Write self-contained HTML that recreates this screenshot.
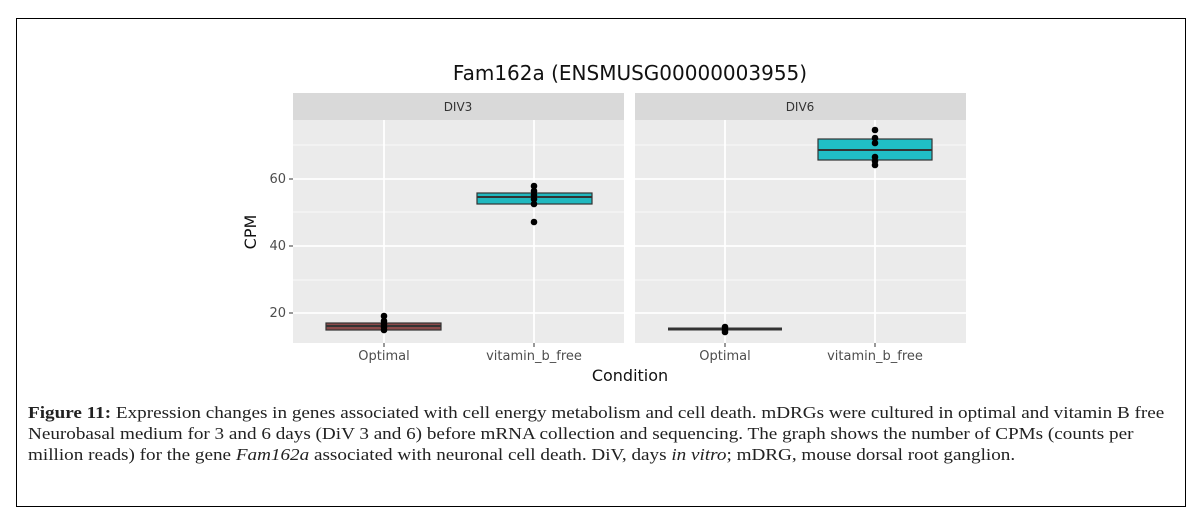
<!DOCTYPE html>
<html><head><meta charset="utf-8"><style>
html,body{margin:0;padding:0;background:#fff;}
body{width:1204px;height:517px;position:relative;overflow:hidden;}
.frame{position:absolute;left:16px;top:18px;width:1170px;height:489px;border:1.5px solid #000;box-sizing:border-box;}
.cap{position:absolute;left:28px;font-family:"Liberation Serif",serif;font-size:16.5px;color:#222;white-space:nowrap;transform:scaleX(1.16);transform-origin:0 0;}
</style></head><body>
<div class="frame"></div>
<svg width="1204" height="517" style="position:absolute;left:0;top:0" font-family="'DejaVu Sans','Liberation Sans',sans-serif">
<text x="630" y="80" font-size="20" text-anchor="middle" fill="#111">Fam162a (ENSMUSG00000003955)</text>
<rect x="293" y="93" width="331" height="27" fill="#d9d9d9"/>
<rect x="635" y="93" width="331" height="27" fill="#d9d9d9"/>
<text x="458" y="111" font-size="12" text-anchor="middle" fill="#333">DIV3</text>
<text x="800" y="111" font-size="12" text-anchor="middle" fill="#333">DIV6</text>
<g>
<rect x="293" y="120" width="331" height="223" fill="#ebebeb"/>
<rect x="635" y="120" width="331" height="223" fill="#ebebeb"/>
<g stroke="#fff" stroke-width="0.8">
<line x1="293" x2="624" y1="145" y2="145"/><line x1="293" x2="624" y1="212" y2="212"/><line x1="293" x2="624" y1="280" y2="280"/>
<line x1="635" x2="966" y1="145" y2="145"/><line x1="635" x2="966" y1="212" y2="212"/><line x1="635" x2="966" y1="280" y2="280"/>
</g>
<g stroke="#fff" stroke-width="1.8">
<line x1="293" x2="624" y1="179" y2="179"/><line x1="293" x2="624" y1="246" y2="246"/><line x1="293" x2="624" y1="313" y2="313"/>
<line x1="635" x2="966" y1="179" y2="179"/><line x1="635" x2="966" y1="246" y2="246"/><line x1="635" x2="966" y1="313" y2="313"/>
<line x1="384" x2="384" y1="120" y2="343"/><line x1="534" x2="534" y1="120" y2="343"/>
<line x1="725" x2="725" y1="120" y2="343"/><line x1="875" x2="875" y1="120" y2="343"/>
</g>
</g>
<rect x="326" y="323" width="115" height="7" fill="#8a4a4a" stroke="#333" stroke-width="1.2"/>
<line x1="326" x2="441" y1="326" y2="326" stroke="#333" stroke-width="2"/>
<rect x="477" y="193" width="115" height="11" fill="#20b8bf" stroke="#333" stroke-width="1.2"/>
<line x1="477" x2="592" y1="197" y2="197" stroke="#333" stroke-width="2"/>
<rect x="818" y="139" width="114" height="21" fill="#20bec6" stroke="#333" stroke-width="1.2"/>
<line x1="818" x2="932" y1="150" y2="150" stroke="#333" stroke-width="2"/>
<line x1="668" x2="782" y1="329" y2="329" stroke="#333" stroke-width="3"/>
<g fill="#000">
<circle cx="384" cy="316" r="3.3"/><circle cx="384" cy="321" r="3.3"/><circle cx="384" cy="324" r="3.3"/><circle cx="384" cy="327" r="3.3"/><circle cx="384" cy="330" r="3.3"/>
<circle cx="534" cy="186" r="3.3"/><circle cx="534" cy="191" r="3.3"/><circle cx="534" cy="195" r="3.3"/><circle cx="534" cy="199" r="3.3"/><circle cx="534" cy="204" r="3.3"/><circle cx="534" cy="222" r="3.3"/>
<circle cx="725" cy="327" r="3.3"/><circle cx="725" cy="330" r="3.3"/><circle cx="725" cy="332" r="3.3"/>
<circle cx="875" cy="130" r="3.3"/><circle cx="875" cy="138" r="3.3"/><circle cx="875" cy="143" r="3.3"/><circle cx="875" cy="157" r="3.3"/><circle cx="875" cy="161" r="3.3"/><circle cx="875" cy="165" r="3.3"/>
</g>
<g stroke="#333" stroke-width="1"><line x1="289" x2="293" y1="179" y2="179"/><line x1="289" x2="293" y1="246" y2="246"/><line x1="289" x2="293" y1="313" y2="313"/>
<line x1="384" x2="384" y1="343" y2="347"/><line x1="534" x2="534" y1="343" y2="347"/><line x1="725" x2="725" y1="343" y2="347"/><line x1="875" x2="875" y1="343" y2="347"/></g>
<g font-size="13" fill="#4d4d4d" text-anchor="end"><text x="286" y="183">60</text><text x="286" y="250">40</text><text x="286" y="317">20</text></g>
<g font-size="13" fill="#4d4d4d" text-anchor="middle"><text x="384" y="360">Optimal</text><text x="534" y="360">vitamin_b_free</text><text x="725" y="360">Optimal</text><text x="875" y="360">vitamin_b_free</text></g>
<text x="630" y="381" font-size="16" text-anchor="middle" fill="#111">Condition</text>
<text transform="translate(256,232) rotate(-90)" font-size="16" text-anchor="middle" fill="#111">CPM</text>
</svg>
<div class="cap" style="top:403px"><b>Figure 11:</b> Expression changes in genes associated with cell energy metabolism and cell death. mDRGs were cultured in optimal and vitamin B free</div>
<div class="cap" style="top:424px">Neurobasal medium for 3 and 6 days (DiV 3 and 6) before mRNA collection and sequencing. The graph shows the number of CPMs (counts per</div>
<div class="cap" style="top:445px">million reads) for the gene <i>Fam162a</i> associated with neuronal cell death. DiV, days <i>in vitro</i>; mDRG, mouse dorsal root ganglion.</div>
</body></html>
